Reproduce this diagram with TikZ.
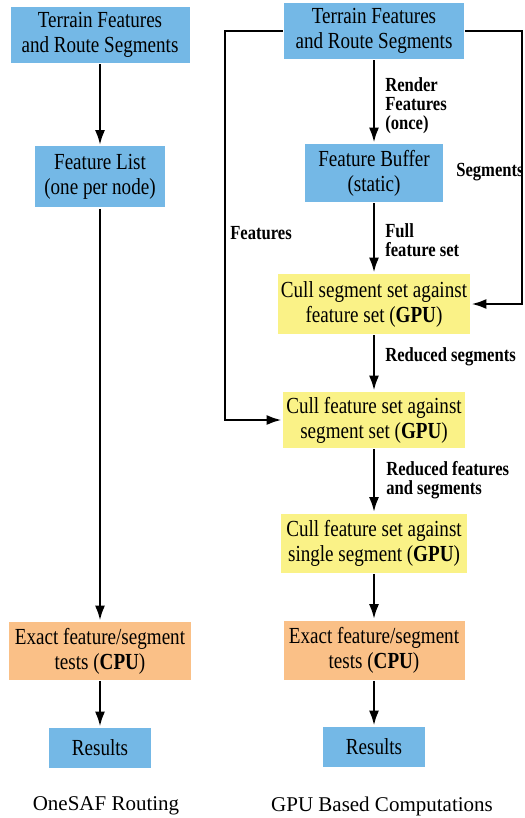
\documentclass[tikz,border=0pt]{standalone}
\usepackage{fontspec}
\setmainfont{Liberation Serif}
\newfontfamily\narrowrm[FakeStretch=0.83]{Liberation Serif}
\usetikzlibrary{arrows.meta}
\definecolor{boxblue}{RGB}{116,184,230}
\definecolor{boxyellow}{RGB}{250,242,135}
\definecolor{boxorange}{RGB}{250,192,135}
\begin{document}
\begin{tikzpicture}[x=1pt, y=-1pt, line width=2.6pt, >={Latex[length=15pt,width=10pt]},
  box/.style={inner sep=0pt, align=center, font=\narrowrm\fontsize{23}{25}\selectfont},
  bluebox/.style={box, fill=boxblue},
  gpubox/.style={box, fill=boxyellow},
  cpubox/.style={box, fill=boxorange},
  lbl/.style={anchor=west, align=left, inner sep=0pt, font=\narrowrm\bfseries\fontsize{20}{19}\selectfont},
  caption/.style={inner sep=0pt, font=\fontsize{21}{25}\selectfont}]
\useasboundingbox (0,0) rectangle (524,818);
% OneSAF routing
\node (lterrain) at (100,35) [bluebox, minimum width=179pt, minimum height=56pt] {Terrain Features\\and Route Segments};
\node (lfeat) at (100,177) [bluebox, minimum width=130pt, minimum height=61pt] {Feature List\\(one per node)};
\node (lexact) at (100,651) [cpubox, minimum width=182pt, minimum height=58pt] {Exact feature/segment\\tests (\textbf{CPU})};
\node (lres) at (100,748) [bluebox, minimum width=102pt, minimum height=40pt] {Results};
\node (lcap) at (106,806) [caption] {OneSAF Routing};
\draw[->] (lterrain) -- (lfeat);
\draw[->] (lfeat) -- (lexact);
\draw[->] (lexact) -- (lres);
% GPU based computations
\node (rterrain) at (374,31) [bluebox, minimum width=180pt, minimum height=56pt] {Terrain Features\\and Route Segments};
\node (rbuffer) at (374,173) [bluebox, minimum width=138pt, minimum height=58pt] {Feature Buffer\\(static)};
\node (cullseg) at (374,304) [gpubox, minimum width=192pt, minimum height=60pt] {Cull segment set against\\feature set (\textbf{GPU})};
\node (cullfeat) at (374,420) [gpubox, minimum width=182pt, minimum height=56pt] {Cull feature set against\\segment set (\textbf{GPU})};
\node (cullone) at (374,543) [gpubox, minimum width=186pt, minimum height=59pt] {Cull feature set against\\single segment (\textbf{GPU})};
\node (rexact) at (374,650) [cpubox, minimum width=181pt, minimum height=59pt] {Exact feature/segment\\tests (\textbf{CPU})};
\node (rres) at (374,747) [bluebox, minimum width=102pt, minimum height=40pt] {Results};
\node (rcap) at (382,806) [caption] {GPU Based Computations};
\coordinate (fcorner) at (225,31);
\coordinate (scorner) at (522,31);
\draw[->] (rterrain) -- (rbuffer);
\draw[->] (rbuffer) -- (cullseg);
\draw[->] (cullseg) -- (cullfeat);
\draw[->] (cullfeat) -- (cullone);
\draw[->] (cullone) -- (rexact);
\draw[->] (rexact) -- (rres);
\draw[->] (rterrain.west) -- (fcorner) |- (cullfeat.west);
\draw[->] (rterrain.east) -- (scorner) |- (cullseg.east);
\node (lrender) at (384,106) [lbl] {Render\\Features\\(once)};
\node (lfull) at (384,240) [lbl] {Full\\feature set};
\node (lredseg) at (384,357) [lbl] {Reduced segments};
\node (lredboth) at (385,480) [lbl] {Reduced features\\and segments};
\node (lfeatures) at (229,233) [lbl] {Features};
\node (lsegs) at (455,172) [lbl] {Segments};
\end{tikzpicture}
\end{document}
